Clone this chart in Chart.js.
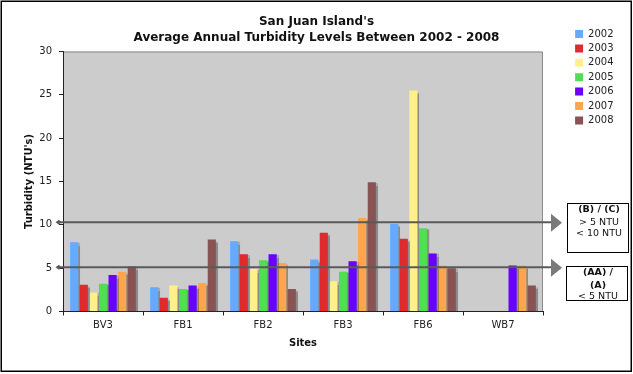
<!DOCTYPE html>
<html>
<head>
<meta charset="utf-8">
<script src="https://cdn.jsdelivr.net/npm/chart.js@4.4.0/dist/chart.umd.min.js"></script>
<style>
  html, body { margin: 0; padding: 0; background: #fff; }
</style>
</head>
<body>
<canvas id="turbidityChart" width="633" height="374"></canvas>
<script>
//DATA
var sites = ["BV3", "FB1", "FB2", "FB3", "FB6", "WB7"];
var years = ["2002", "2003", "2004", "2005", "2006", "2007", "2008"];
var t2002 = [8.0, 2.8, 8.1, 6.0, 10.1, null];
var t2003 = [3.1, 1.6, 6.6, 9.1, 8.4, null];
var t2004 = [2.2, 3.0, 4.9, 3.5, 25.5, null];
var t2005 = [3.2, 2.6, 5.9, 4.6, 9.6, null];
var t2006 = [4.2, 3.0, 6.6, 5.8, 6.7, 5.3];
var t2007 = [4.6, 3.3, 5.6, 10.8, 5.3, 5.3];
var t2008 = [5.2, 8.3, 2.6, 14.9, 5.0, 3.0];
var yTicks = [0, 5, 10, 15, 20, 25, 30];

// class limits drawn as lines across the plot
var thresholds = [10.3, 5.1];
var classLabels = [
  ["(B) / (C)", "> 5 NTU", "< 10 NTU"],
  ["(AA) /", "(A)", "< 5 NTU"]
];

//COLORS
var yearColors = ["#66aaff", "#e02a2e", "#fff08a", "#52de52", "#6a00ff", "#ffa54a", "#8a5353"];
var plotGray = "#cccccc";
var lineGray = "#5a5a5a";

Chart.defaults.font.family = "'DejaVu Sans', Verdana, sans-serif";
Chart.defaults.color = "#222";

var allYears = [t2002, t2003, t2004, t2005, t2006, t2007, t2008];
var datasets = [];
for (var i = 0; i < years.length; i++) {
  datasets.push({
    label: years[i],
    data: allYears[i],
    backgroundColor: yearColors[i],
    borderWidth: 0,
    barPercentage: 0.85,
    categoryPercentage: 0.84
  });
}

// background, bar shadows, class lines and boxes
var decorations = {
  id: "decorations",
  afterLayout: function (chart) {
    var lg = chart.legend;
    lg.left = 570.7;
    lg.right = 630;
    lg.width = lg.right - lg.left;
    lg.top = 24.6;
    lg.bottom = lg.top + 200;
    lg.height = 200;
    chart.titleBlock.left = 0;
    chart.titleBlock.right = chart.width;
  },
  beforeDraw: function (chart) {
    var ctx = chart.ctx;
    var a = chart.chartArea;
    ctx.save();
    ctx.fillStyle = "#fff";
    ctx.fillRect(0, 0, chart.width, chart.height);
    ctx.fillStyle = plotGray;
    ctx.fillRect(a.left, a.top, a.right - a.left, a.bottom - a.top);
    ctx.strokeStyle = "#8a8a8a";
    ctx.lineWidth = 1;
    ctx.beginPath();
    ctx.moveTo(a.left, a.top + 0.5);
    ctx.lineTo(a.right - 0.5, a.top + 0.5);
    ctx.lineTo(a.right - 0.5, a.bottom);
    ctx.stroke();
    ctx.restore();
  },
  beforeDatasetsDraw: function (chart) {
    var ctx = chart.ctx;
    ctx.save();
    ctx.shadowColor = "rgba(60,60,60,0.45)";
    ctx.shadowOffsetX = 2;
    ctx.shadowOffsetY = 1;
    ctx.shadowBlur = 1;
  },
  afterDatasetsDraw: function (chart) {
    chart.ctx.restore();
  },
  afterDraw: function (chart) {
    var ctx = chart.ctx;
    var y = chart.scales.y;
    var boxes = [
      { x: 567.5, y: 203.5, w: 61, h: 49, cx: 599, lines: [210, 222.5, 233.5] },
      { x: 566.5, y: 266.5, w: 61, h: 34, cx: 598, lines: [272.5, 285.5, 297] }
    ];
    ctx.save();
    for (var i = 0; i < thresholds.length; i++) {
      var py = y.getPixelForValue(thresholds[i]);
      ctx.strokeStyle = lineGray;
      ctx.lineWidth = 2;
      ctx.beginPath();
      ctx.moveTo(59, py);
      ctx.lineTo(552, py);
      ctx.stroke();
      // small marker at the left end
      ctx.fillStyle = lineGray;
      ctx.beginPath();
      ctx.moveTo(55.5, py);
      ctx.lineTo(59, py - 2.5);
      ctx.lineTo(61, py);
      ctx.lineTo(59, py + 2.5);
      ctx.closePath();
      ctx.fill();
      // arrow head
      ctx.fillStyle = "#7a7a7a";
      ctx.beginPath();
      ctx.moveTo(551, py - 8.5);
      ctx.lineTo(562, py + 0.5);
      ctx.lineTo(551, py + 9.5);
      ctx.closePath();
      ctx.fill();

      var b = boxes[i];
      ctx.fillStyle = "#fff";
      ctx.fillRect(b.x, b.y, b.w, b.h);
      ctx.fillStyle = "#111";
      ctx.textAlign = "center";
      ctx.textBaseline = "middle";
      for (var k = 0; k < classLabels[i].length; k++) {
        var bold = k === 0 || (i === 1 && k === 1);
        ctx.font = (bold ? "bold " : "") + "9.5px 'DejaVu Sans', Verdana, sans-serif";
        ctx.fillText(classLabels[i][k], b.cx, b.lines[k]);
      }
      ctx.strokeStyle = "#000";
      ctx.lineWidth = 1;
      ctx.strokeRect(b.x, b.y, b.w, b.h);
    }
    // outer frame
    ctx.strokeStyle = "#000";
    ctx.lineWidth = 1.5;
    ctx.strokeRect(1.25, 1.25, 630, 370);
    ctx.restore();
  }
};

var turbidityChart = new Chart(document.getElementById("turbidityChart"), {
  type: "bar",
  data: { labels: sites, datasets: datasets },
  options: {
    responsive: false,
    animation: false,
    devicePixelRatio: 1,
    layout: { padding: { left: 0, right: 50, top: 0, bottom: 0 } },
    plugins: {
      title: {
        display: true,
        text: ["San Juan Island's", "Average Annual Turbidity Levels Between 2002 - 2008"],
        color: "#111",
        font: { size: 12, weight: "bold", lineHeight: 16 / 12 },
        padding: { top: 14, bottom: 5.5 }
      },
      legend: {
        position: "right",
        align: "start",
        maxWidth: 40,
        labels: {
          boxWidth: 8,
          boxHeight: 8,
          padding: 4.4,
          color: "#222",
          font: { size: 10 }
        }
      },
      tooltip: { enabled: false }
    },
    scales: {
      x: {
        grid: { drawOnChartArea: false, tickLength: 4, color: "#222", offset: true },
        border: { color: "#222" },
        ticks: { padding: 4, color: "#222", font: { size: 10 } },
        title: {
          display: true,
          text: "Sites",
          color: "#111",
          font: { size: 10, weight: "bold" },
          padding: { top: 0, bottom: 25 }
        },
        afterFit: function (s) { s.height = 62.5; }
      },
      y: {
        min: 0,
        max: 30,
        afterBuildTicks: function (s) {
          s.ticks = yTicks.map(function (v) { return { value: v }; });
        },
        grid: { drawOnChartArea: false, tickLength: 4, color: "#222" },
        border: { color: "#222" },
        ticks: { padding: 7, color: "#222", font: { size: 10 } },
        title: {
          display: true,
          text: "Turbidity (NTU's)",
          color: "#111",
          font: { size: 10, weight: "bold" },
          padding: { top: 23, bottom: 0 }
        },
        afterFit: function (s) { s.width = 63; }
      }
    }
  },
  plugins: [decorations]
});
</script>
</body>
</html>
